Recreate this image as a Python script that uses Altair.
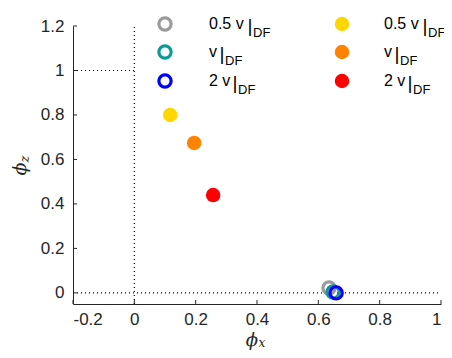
import altair as alt
import pandas as pd

# ---- data ----
open_labels = ["0.5 v", "v", "2 v"]
open_x = [0.635, 0.648, 0.658]
open_y = [0.022, 0.004, 0.0]
open_colors = ["#9b9b9b", "#0e9a94", "#0000ff"]

filled_labels = ["0.5 v", "v", "2 v"]
filled_x = [0.117, 0.195, 0.257]
filled_y = [0.80, 0.674, 0.44]
filled_colors = ["#ffd700", "#ff8300", "#ff0000"]

x_ticks = [-0.2, 0, 0.2, 0.4, 0.6, 0.8, 1]
y_ticks = [0, 0.2, 0.4, 0.6, 0.8, 1, 1.2]

W, H = 368, 278
XD = [-0.2, 1.0]
YD = [-0.05, 1.2]
AX = "#262626"
FONT = "Liberation Sans"

xs = alt.Scale(domain=XD, nice=False, zero=False)
ys = alt.Scale(domain=YD, nice=False, zero=False)

open_df = pd.DataFrame({"x": open_x, "y": open_y, "c": open_colors, "label": open_labels})
fill_df = pd.DataFrame({"x": filled_x, "y": filled_y, "c": filled_colors, "label": filled_labels})

lab = "toString(round(datum.value*10)/10)"

base_x = alt.X("x:Q", scale=xs, axis=alt.Axis(values=x_ticks, labelExpr=lab, title=None, ticks=False,
                                              grid=False, labelPadding=7, domainColor=AX, labelColor=AX,
                                              labelFontSize=17, labelFont=FONT))
base_y = alt.Y("y:Q", scale=ys, axis=alt.Axis(values=y_ticks, labelExpr=lab, title=None, ticks=False,
                                              grid=False, labelPadding=9, domainColor=AX, labelColor=AX,
                                              labelFontSize=17, labelFont=FONT))

# reference lines (dotted)
ref_df = pd.DataFrame({
    "x": [0, -0.2, -0.2],
    "x2": [0, 0, 1.0],
    "y": [YD[0], 1, 0],
    "y2": [1.2, 1, 0],
})
refs = alt.Chart(ref_df).mark_rule(color="black", strokeDash=[1, 3], strokeWidth=1.2).encode(
    x=base_x, x2="x2:Q", y=base_y, y2="y2:Q")

# inward ticks
xt = alt.Chart(pd.DataFrame({"x": x_ticks})).mark_rule(color=AX).encode(
    x=alt.X("x:Q", scale=xs), y=alt.value(H), y2=alt.value(H - 4))
yt = alt.Chart(pd.DataFrame({"y": y_ticks})).mark_rule(color=AX).encode(
    y=alt.Y("y:Q", scale=ys), x=alt.value(0), x2=alt.value(4))

filled = alt.Chart(fill_df).mark_circle(size=210, opacity=1).encode(
    x=alt.X("x:Q", scale=xs), y=alt.Y("y:Q", scale=ys),
    color=alt.Color("c:N", scale=None))
opened = alt.Chart(open_df).mark_point(size=150, filled=False, strokeWidth=3.2, opacity=1).encode(
    x=alt.X("x:Q", scale=xs), y=alt.Y("y:Q", scale=ys),
    stroke=alt.Color("c:N", scale=None))

# ---- manual legend (pixel positions inside plot area) ----
row_y = [-2, 26, 55]
bar_dx = [41, 13, 26]
sub_dx = [44, 16, 29]
leg_layers = []


def legend_entry(sym_x, txt_x, color, text, i, filled_sym):
    d = pd.DataFrame({"c": [color], "t": [text], "b": ["|"], "s": ["DF"]})
    if filled_sym:
        sym = alt.Chart(d).mark_circle(size=210, opacity=1).encode(
            x=alt.value(sym_x), y=alt.value(row_y[i]), color=alt.Color("c:N", scale=None))
    else:
        sym = alt.Chart(d).mark_point(size=150, filled=False, strokeWidth=3.2, opacity=1).encode(
            x=alt.value(sym_x), y=alt.value(row_y[i]), stroke=alt.Color("c:N", scale=None))
    t = alt.Chart(d).mark_text(align="left", baseline="middle", fontSize=16, font=FONT, color="black").encode(
        x=alt.value(txt_x), y=alt.value(row_y[i]), text="t:N")
    b = alt.Chart(d).mark_text(align="center", baseline="middle", fontSize=19, font=FONT, color="black").encode(
        x=alt.value(txt_x + bar_dx[i]), y=alt.value(row_y[i] + 2), text="b:N")
    s = alt.Chart(d).mark_text(align="left", baseline="middle", fontSize=13, font=FONT, color="black").encode(
        x=alt.value(txt_x + sub_dx[i]), y=alt.value(row_y[i] + 9), text="s:N")
    return [sym, t, b, s]


for i in range(3):
    leg_layers += legend_entry(92, 136, open_colors[i], open_labels[i], i, False)
    leg_layers += legend_entry(269, 311, filled_colors[i], filled_labels[i], i, True)

# ---- axis titles (phi with subscripts) ----
tdf = pd.DataFrame({"p": ["ϕ"], "sx": ["x"], "sz": ["z"]})
phi_x = alt.Chart(tdf).mark_text(fontSize=18, font="DejaVu Serif", fontStyle="italic", color=AX,
                                 align="center", baseline="middle").encode(
    x=alt.value(179), y=alt.value(315), text="p:N")
sub_x = alt.Chart(tdf).mark_text(fontSize=12, font="DejaVu Serif", fontStyle="italic", color=AX,
                                 align="center", baseline="middle").encode(
    x=alt.value(189), y=alt.value(317), text="sx:N")
phi_z = alt.Chart(tdf).mark_text(fontSize=19, font="DejaVu Serif", fontStyle="italic", color=AX,
                                 align="center", baseline="middle", angle=270).encode(
    x=alt.value(-53), y=alt.value(143), text="p:N")
sub_z = alt.Chart(tdf).mark_text(fontSize=13, font="DejaVu Serif", fontStyle="italic", color=AX,
                                 align="center", baseline="middle", angle=270).encode(
    x=alt.value(-48), y=alt.value(133), text="sz:N")

chart = alt.layer(refs, xt, yt, filled, opened, *leg_layers, phi_x, sub_x, phi_z, sub_z).properties(
    width=W, height=H,
    autosize=alt.AutoSizeParams(type="none"),
    padding={"left": 65, "top": 18, "right": 3, "bottom": 46},
).configure_view(stroke=None)

chart.save("out.html", embed_options={"renderer": "svg", "actions": False})
